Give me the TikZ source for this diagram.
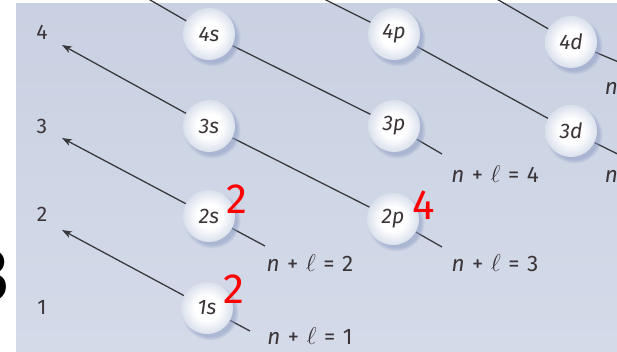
\documentclass[tikz,border=0pt]{standalone}
\usepackage{fontspec}
\setmainfont{Fira Sans}
\usetikzlibrary{positioning, calc, arrows.meta, shadows}
\definecolor{sfondoalto}{RGB}{201,209,226}
\definecolor{sfondobasso}{RGB}{212,218,232}
\definecolor{bordopalla}{RGB}{218,224,236}
\definecolor{ombrapalla}{RGB}{140,156,195}
\definecolor{grigiolinea}{RGB}{55,55,60}
\definecolor{testo}{RGB}{58,52,56}
\pgfdeclareradialshading{palla}{\pgfpoint{0bp}{0bp}}{color(0bp)=(white); color(12bp)=(white); color(25bp)=(bordopalla); color(50bp)=(bordopalla)}
\pgfdeclarelayer{sfondo}
\pgfdeclarelayer{linee}
\pgfsetlayers{sfondo,linee,main}
\begin{document}
\begin{tikzpicture}[x=0.025cm, y=-0.025cm,
        every node/.style={text=testo, font=\fontsize{15}{15}\selectfont},
        orbitale/.style={circle, minimum size=1.3cm, inner sep=0pt, shading=palla,
            circular drop shadow={shadow xshift=2pt, shadow yshift=-2.5pt, fill=ombrapalla, opacity=.55},
            font=\itshape\fontsize{15}{15}\selectfont},
        somma/.style={font=\fontsize{16}{16}\selectfont},
        diagonale/.style={line width=0.9pt, draw=grigiolinea},
        freccia/.style={diagonale, -{Stealth[length=7pt, width=5pt, inset=2pt]}},
        elettroni/.style={text=red, font=\fontsize{30}{30}\selectfont}]
        \useasboundingbox (0,0) rectangle (617,351);
        %sfondo
        \begin{pgfonlayer}{sfondo}
            \shade[top color=sfondoalto, bottom color=sfondobasso] (16,3) rectangle (617,351);
        \end{pgfonlayer}
        %numero tagliato a sinistra
        \node[anchor=east, text=black, font=\bfseries\fontsize{54}{54}\selectfont] (tre) at (14,276) {3};
        %numeri quantici
        \node (n4) at (42,32) {4};
        \node (n3) at (42,126) {3};
        \node (n2) at (42,214) {2};
        \node (n1) at (42,307) {1};
        %orbitali
        \node[orbitale] (s4) at (209,34) {4s};
        \node[orbitale] (p4) at (394,34) {4p};
        \node[orbitale] (d4) at (571,42) {4d};
        \node[orbitale] (s3) at (209,126) {3s};
        \node[orbitale] (p3) at (394,126) {3p};
        \node[orbitale] (d3) at (571,131) {3d};
        \node[orbitale] (s2) at (209,216) {2s};
        \node[orbitale] (p2) at (393,219) {2p};
        \node[orbitale] (s1) at (207,308) {1s};
        %elettroni
        \node[elettroni] (e2s) at (237,199) {2};
        \node[elettroni] (e1s) at (234,289) {2};
        \node[elettroni] (e2p) at (424,205) {4};
        %estremi delle diagonali
        \coordinate (f4) at (62,45);
        \coordinate (f3) at (62,138);
        \coordinate (f2) at (62,230);
        \coordinate (t4) at (145,-3);
        \coordinate (t5) at (322,-2);
        \coordinate (t6) at (495,-2);
        \coordinate (c1) at (250,331);
        \coordinate (c2) at (265,246);
        \coordinate (c3) at (442,247);
        \coordinate (c4) at (442,154);
        \coordinate (c5) at (640,165);
        \coordinate (c6) at (640,71);
        %diagonali
        \begin{pgfonlayer}{linee}
            \draw[freccia] (s1) -- (f2);
            \draw[diagonale] (s1) -- (c1);
            \draw[freccia] (s2) -- (f3);
            \draw[diagonale] (s2) -- (c2);
            \draw[freccia] (s3) -- (f4);
            \draw[diagonale] (s3) -- (p2) -- (c3);
            \draw[diagonale] (t4) -- (s4) -- (p3) -- (c4);
            \draw[diagonale] (t5) -- (p4) -- (d3) -- (c5);
            \draw[diagonale] (t6) -- (d4) -- (c6);
        \end{pgfonlayer}
        %etichette n + l
        \node[somma] (l1) at (310,336) {\textit{n}\,\,+\,\,$\ell$\,\,=\,\,1};
        \node[somma] (l2) at (310,263) {\textit{n}\,\,+\,\,$\ell$\,\,=\,\,2};
        \node[somma] (l3) at (495,263) {\textit{n}\,\,+\,\,$\ell$\,\,=\,\,3};
        \node[somma] (l4) at (495,174) {\textit{n}\,\,+\,\,$\ell$\,\,=\,\,4};
        \node[somma, anchor=west] (l5) at (600,174) {\textit{n}\,\,+\,\,$\ell$\,\,=\,\,5};
        \node[somma, anchor=west] (l6) at (600,86) {\textit{n}\,\,+\,\,$\ell$\,\,=\,\,6};
    \end{tikzpicture}
\end{document}
